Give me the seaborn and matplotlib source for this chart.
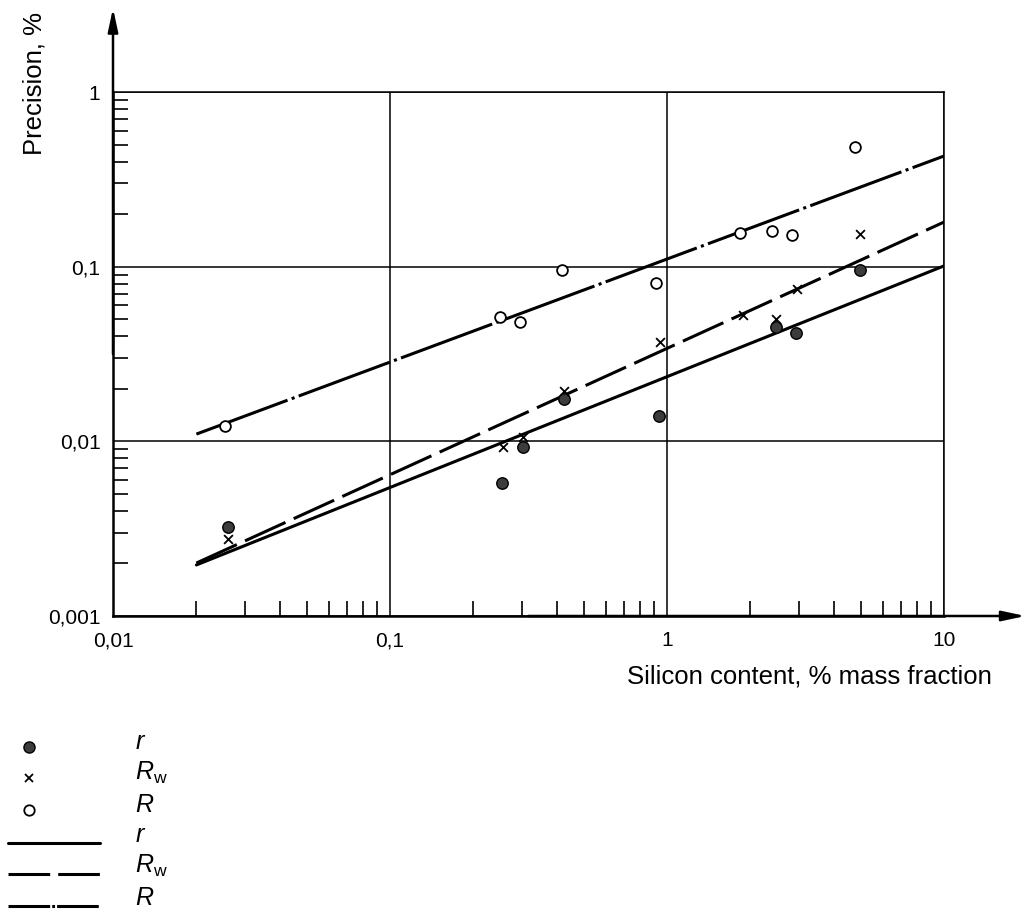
import numpy as np
import seaborn as sns
import matplotlib.pyplot as plt
from matplotlib.lines import Line2D
from matplotlib.legend_handler import HandlerLine2D
from matplotlib.ticker import FixedLocator, FixedFormatter, LogLocator, NullFormatter

# precision vs silicon content
r_si = [0.026, 0.254, 0.302, 0.425, 0.936, 2.47, 2.92, 4.97]
r_val = [0.00324, 0.00578, 0.0093, 0.0175, 0.0140, 0.0452, 0.0417, 0.0958]
rw_si = [0.026, 0.256, 0.302, 0.425, 0.94, 1.88, 2.47, 2.95, 4.97]
rw_val = [0.00276, 0.0093, 0.0106, 0.0194, 0.0371, 0.0529, 0.0502, 0.0745, 0.154]
R_si = [0.0254, 0.249, 0.295, 0.418, 0.913, 1.84, 2.39, 2.83, 4.77]
R_val = [0.01225, 0.0515, 0.0482, 0.0958, 0.0807, 0.156, 0.160, 0.152, 0.484]

# regression lines (end points at 0.02 and 10)
fit_si = [0.02, 10]
fit_r = [0.00196, 0.101]
fit_rw = [0.00201, 0.180]
fit_R = [0.0110, 0.430]

x_ticks = [0.01, 0.1, 1, 10]
x_labels = ['0,01', '0,1', '1', '10']
y_ticks = [0.001, 0.01, 0.1, 1]
y_labels = ['0,001', '0,01', '0,1', '1']

sns.set_style('white')
plt.rcParams['font.family'] = ['Liberation Sans', 'DejaVu Sans']
plt.rcParams['mathtext.fontset'] = 'custom'
plt.rcParams['mathtext.rm'] = 'Liberation Sans'
plt.rcParams['mathtext.it'] = 'Liberation Sans:italic'
plt.rcParams['lines.scale_dashes'] = False
plt.rcParams['text.color'] = 'black'
plt.rcParams['axes.labelcolor'] = 'black'
plt.rcParams['xtick.color'] = 'black'
plt.rcParams['ytick.color'] = 'black'


class DroppedHandler(HandlerLine2D):
    # legend keys sit a little below the label text in the original
    def __init__(self, drop, **kw):
        super().__init__(**kw)
        self.drop = drop

    def create_artists(self, legend, orig_handle, xdescent, ydescent, width,
                       height, fontsize, trans):
        arts = super().create_artists(legend, orig_handle, xdescent, ydescent,
                                      width, height, fontsize, trans)
        for a in arts:
            a.set_ydata(np.asarray(a.get_ydata(), dtype=float) - self.drop)
        return arts


fig = plt.figure(figsize=(10.24, 9.14), dpi=100)
ax = fig.add_axes([113 / 1024, 1 - 616 / 914, 831 / 1024, 524 / 914])

lw = 2.2
dash_rw = (0, (32, 6.5))
dash_R = (0, (70, 3.2, 2.2, 3.2))

sns.lineplot(x=fit_si, y=fit_r, ax=ax, color='black', lw=lw)
sns.lineplot(x=fit_si, y=fit_rw, ax=ax, color='black', lw=lw, linestyle=dash_rw)
sns.lineplot(x=fit_si, y=fit_R, ax=ax, color='black', lw=lw, linestyle=dash_R)

sns.scatterplot(x=r_si, y=r_val, ax=ax, marker='o', s=68, color='#3c3c3c',
                edgecolor='black', linewidth=1.0, zorder=5)
sns.scatterplot(x=rw_si, y=rw_val, ax=ax, marker='x', s=40, color='black',
                linewidth=1.3, zorder=5)
sns.scatterplot(x=R_si, y=R_val, ax=ax, marker='o', s=60, color='white',
                edgecolor='black', linewidth=1.3, zorder=5)

ax.set_xscale('log')
ax.set_yscale('log')
ax.set_xlim(0.01, 10)
ax.set_ylim(0.001, 1)

ax.xaxis.set_major_locator(FixedLocator(x_ticks))
ax.xaxis.set_major_formatter(FixedFormatter(x_labels))
ax.yaxis.set_major_locator(FixedLocator(y_ticks))
ax.yaxis.set_major_formatter(FixedFormatter(y_labels))
for axis in (ax.xaxis, ax.yaxis):
    axis.set_minor_locator(LogLocator(base=10, subs=np.arange(2, 10)))
    axis.set_minor_formatter(NullFormatter())

ax.tick_params(which='major', length=0, labelsize=15, colors='black')
ax.tick_params(axis='y', which='major', pad=9)
ax.tick_params(axis='x', which='major', pad=11)
ax.tick_params(which='minor', direction='in', length=11, width=1.2, color='black',
               left=True, bottom=True)

ax.grid(True, which='major', color='black', lw=1.1)
ax.grid(False, which='minor')
for side in ['left', 'bottom']:
    ax.spines[side].set_linewidth(1.8)
    ax.spines[side].set_color('black')
for side in ['top', 'right']:
    ax.spines[side].set_linewidth(1.1)
    ax.spines[side].set_color('black')

arrow = dict(arrowstyle='-|>,head_length=1.4,head_width=0.3', color='black',
             lw=1.8, shrinkA=0, shrinkB=0, mutation_scale=10)
ax.annotate('', xy=(0, 1.16), xytext=(0, 0.5), xycoords='axes fraction',
            arrowprops=arrow, annotation_clip=False)
ax.annotate('', xy=(1.098, 0), xytext=(0.5, 0), xycoords='axes fraction',
            arrowprops=arrow, annotation_clip=False)

ax.set_xlabel('Silicon content, % mass fraction', fontsize=18.5, ha='right', va='top')
ax.xaxis.set_label_coords(1.0578, -0.0935)
ax.set_ylabel('Precision, %', fontsize=18.5)
ax.yaxis.set_label_coords(-0.0795, 1.016)

# legend: markers first, then the fitted lines
mark_handles = [
    Line2D([], [], ls='none', marker='o', ms=8, mfc='#3c3c3c', mec='black', mew=1.0),
    Line2D([], [], ls='none', marker='x', ms=6, color='black', mew=1.3),
    Line2D([], [], ls='none', marker='o', ms=7.5, mfc='white', mec='black', mew=1.3),
]
line_handles = [
    Line2D([], [], color='black', lw=lw),
    Line2D([], [], color='black', lw=lw, ls=(0, (30, 5.8))),
    Line2D([], [], color='black', lw=lw, ls=(0, (30, 1.5, 2, 1.5))),
]
labels = [r'$r$', r'$R_\mathrm{w}$', r'$R$']

leg_opts = dict(loc='upper left', bbox_transform=fig.transFigure, frameon=False,
                borderpad=0, borderaxespad=0, fontsize=18, labelspacing=0.25,
                numpoints=1)
leg1 = fig.legend(mark_handles, labels, bbox_to_anchor=(8 / 1024, 1 - 730 / 914),
                  handlelength=1.68, handletextpad=3.4,
                  handler_map={h: DroppedHandler(5) for h in mark_handles}, **leg_opts)
leg2 = fig.legend(line_handles, labels, bbox_to_anchor=(8 / 1024, 1 - 823 / 914),
                  handlelength=3.68, handletextpad=1.4,
                  handler_map={h: DroppedHandler(7) for h in line_handles}, **leg_opts)

fig.savefig('out.png', dpi=100)
